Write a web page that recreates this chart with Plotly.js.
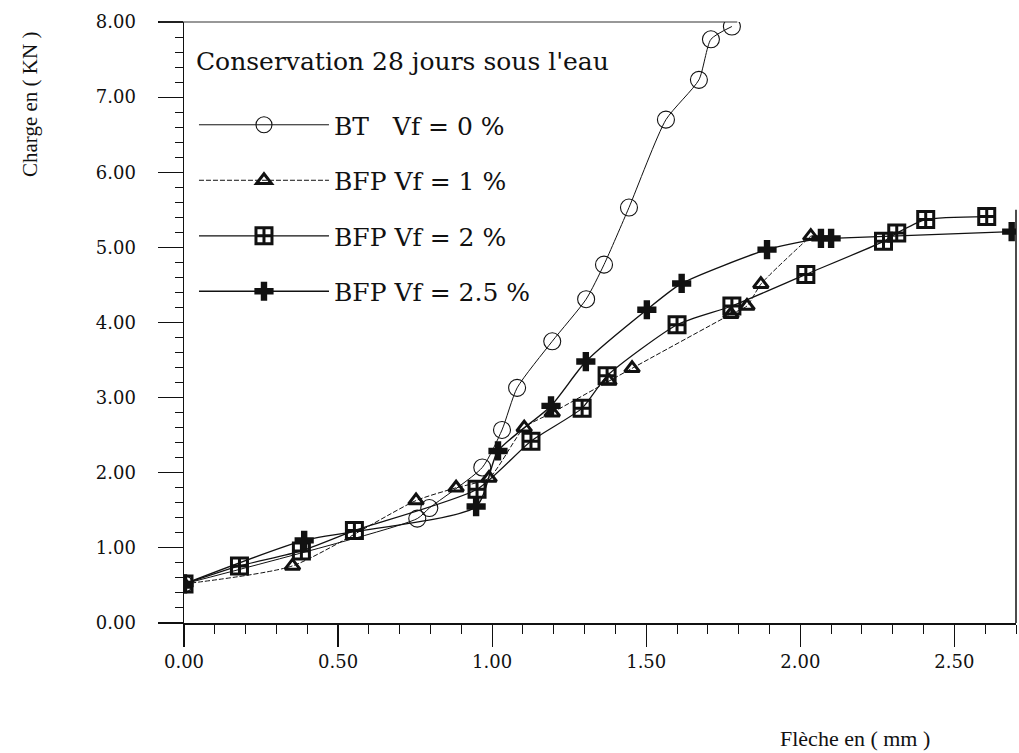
<!DOCTYPE html>
<html>
<head>
<meta charset="utf-8">
<script src="https://cdn.plot.ly/plotly-3.0.1.min.js"></script>
<style>html,body{margin:0;padding:0;background:#fff;}#chart{width:1019px;height:753px;}</style>
</head>
<body>
<div id="chart"></div>
<script>
// ---- data ----
const seriesNames = ["BT   Vf = 0 %", "BFP Vf = 1 %", "BFP Vf = 2 %", "BFP Vf = 2.5 %"];

const btX = [0, 0.757, 0.796, 0.968, 1.032, 1.081, 1.195, 1.305, 1.363, 1.444, 1.564, 1.671, 1.710, 1.778];
const btY = [0.52, 1.39, 1.53, 2.07, 2.57, 3.13, 3.75, 4.31, 4.77, 5.53, 6.70, 7.23, 7.77, 7.94];

const vf1X = [0, 0.352, 0.753, 0.883, 0.990, 1.104, 1.195, 1.379, 1.454, 1.775, 1.827, 1.872, 2.034];
const vf1Y = [0.52, 0.76, 1.63, 1.80, 1.93, 2.60, 2.80, 3.22, 3.39, 4.11, 4.22, 4.51, 5.15];

const vf2X = [0, 0.180, 0.381, 0.553, 0.951, 1.126, 1.292, 1.373, 1.600, 1.778, 2.018, 2.270, 2.313, 2.407, 2.605];
const vf2Y = [0.52, 0.76, 0.96, 1.23, 1.78, 2.42, 2.86, 3.29, 3.97, 4.22, 4.64, 5.08, 5.19, 5.37, 5.41];

const vf25X = [0, 0.39, 0.948, 1.019, 1.191, 1.304, 1.502, 1.615, 1.892, 2.067, 2.100, 2.686];
const vf25Y = [0.52, 1.10, 1.55, 2.29, 2.89, 3.48, 4.17, 4.52, 4.97, 5.12, 5.12, 5.21];

const xTickVals = [0, 0.5, 1.0, 1.5, 2.0, 2.5];
const xTickText = ["0.00", "0.50", "1.00", "1.50", "2.00", "2.50"];
const yTickVals = [0, 1, 2, 3, 4, 5, 6, 7, 8];
const yTickText = ["0.00", "1.00", "2.00", "3.00", "4.00", "5.00", "6.00", "7.00", "8.00"];

const legendTitle = "Conservation 28 jours sous l'eau";
const xTitle = "Flèche en ( mm )";
const yTitle = "Charge en ( KN )";

// ---- traces ----
const ink = "#111";
const traces = [
  {x: btX, y: btY, name: seriesNames[0], legendgroup: "g0", mode: "lines+markers",
   line: {color: ink, width: 1, shape: "spline", smoothing: 0.6},
   marker: {symbol: "circle-open", size: 17, color: ink, line: {width: 1.1, color: ink}}},
  {x: vf1X, y: vf1Y, name: seriesNames[1], legendgroup: "g1", mode: "lines+markers",
   line: {color: ink, width: 1, dash: "5px,2px", shape: "spline", smoothing: 0.6},
   marker: {symbol: "triangle-up-open", size: 13, color: ink, line: {width: 3, color: ink}}},
  {x: vf2X, y: vf2Y, name: seriesNames[2], legendgroup: "g2", mode: "lines+markers",
   line: {color: ink, width: 1.2, shape: "spline", smoothing: 0.6},
   marker: {symbol: "square-cross-open", size: 16, color: ink, line: {width: 3, color: ink}}},
  {x: vf25X, y: vf25Y, name: seriesNames[3], legendgroup: "g3", mode: "lines+markers",
   line: {color: ink, width: 1.4, shape: "spline", smoothing: 0.6},
   marker: {symbol: "cross", size: 16, color: ink, line: {width: 0}}}
];

const tickFont = {family: "DejaVu Serif", size: 18, color: ink};

const layout = {
  width: 1019, height: 753,
  margin: {l: 184, r: 3, t: 22, b: 130},
  paper_bgcolor: "#fff", plot_bgcolor: "#fff",
  showlegend: true,
  xaxis: {
    range: [0, 2.7], showgrid: false, zeroline: false,
    showline: true, linecolor: ink, linewidth: 1.5,
    tickmode: "array", tickvals: xTickVals, ticktext: xTickText,
    ticks: "outside", ticklen: 22, tickwidth: 1.2, tickcolor: ink,
    ticklabelstandoff: 0,
    minor: {dtick: 0.1, ticks: "outside", ticklen: 9, tickwidth: 1, tickcolor: ink, showgrid: false},
    tickfont: tickFont
  },
  yaxis: {
    range: [0, 8], showgrid: false, zeroline: false,
    showline: true, linecolor: ink, linewidth: 1.5,
    tickmode: "array", tickvals: yTickVals, ticktext: yTickText,
    ticks: "outside", ticklen: 25, tickwidth: 1.2, tickcolor: ink,
    ticklabelstandoff: 18,
    minor: {dtick: 0.2, ticks: "outside", ticklen: 8, tickwidth: 1, tickcolor: ink, showgrid: false},
    tickfont: tickFont
  },
  legend: {
    x: 0.012, y: 0.975, xanchor: "left", yanchor: "top",
    bgcolor: "rgba(0,0,0,0)", borderwidth: 0,
    font: {family: "DejaVu Serif", size: 25, color: ink},
    title: {text: legendTitle + "<br> ", side: "top", font: {family: "DejaVu Serif", size: 25, color: ink}},
    tracegroupgap: 20, itemwidth: 130
  },
  shapes: [
    {type: "line", xref: "paper", yref: "paper", x0: -0.029, x1: 0, y0: 0, y1: 0, line: {color: ink, width: 1.5}},
    {type: "line", xref: "x", yref: "paper", x0: 0, x1: 0, y0: 0, y1: -0.04, line: {color: ink, width: 1.5}},
    {type: "line", xref: "paper", yref: "paper", x0: -0.029, x1: 0.665, y0: 1, y1: 1, line: {color: "#333", width: 1.2}},
    {type: "line", xref: "paper", yref: "y", x0: 1, x1: 1, y0: 0, y1: 5.5, line: {color: ink, width: 1.5}}
  ],
  annotations: [
    {text: yTitle, xref: "paper", yref: "paper", x: -0.185, y: 0.862, xanchor: "center", yanchor: "middle",
     showarrow: false, textangle: -90, font: {family: "Liberation Serif", size: 21, color: ink}},
    {text: xTitle, xref: "paper", yref: "paper", x: 0.806, y: -0.217, xanchor: "center", yanchor: "bottom",
     showarrow: false, font: {family: "Liberation Serif", size: 22, color: ink}}
  ]
};

Plotly.newPlot("chart", traces, layout, {displayModeBar: false, staticPlot: true});
</script>
</body>
</html>
